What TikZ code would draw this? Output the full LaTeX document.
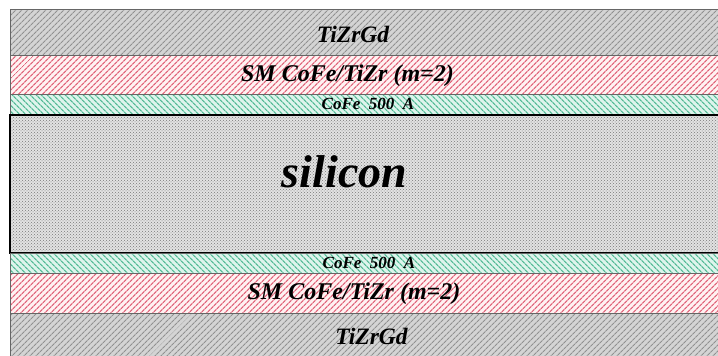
\documentclass[tikz,border=0pt]{standalone}
\usepackage{fontspec}
\setmainfont{Liberation Serif}
\usetikzlibrary{patterns,patterns.meta}
\definecolor{gdback}{RGB}{212,212,212}
\definecolor{gdline}{RGB}{145,145,145}
\definecolor{smback}{RGB}{255,242,242}
\definecolor{smline}{RGB}{224,100,122}
\definecolor{cofeback}{RGB}{222,244,236}
\definecolor{cofeline}{RGB}{84,186,150}
\definecolor{siback}{RGB}{226,226,226}
\definecolor{siline}{RGB}{120,120,120}
\begin{document}
\begin{tikzpicture}[x=1pt,y=-1pt,
	gdlayer/.style={draw=black!60, line width=0.8pt, preaction={fill=gdback},
		pattern={Lines[angle=45,distance=4pt,line width=1.2pt]}, pattern color=gdline},
	smlayer/.style={draw=black!60, line width=0.8pt, preaction={fill=smback},
		pattern={Lines[angle=45,distance=4pt,line width=1.3pt]}, pattern color=smline},
	cofelayer/.style={draw=black!60, line width=0.8pt, preaction={fill=cofeback},
		pattern={Lines[angle=-45,distance=4pt,line width=1.3pt]}, pattern color=cofeline},
	silayer/.style={draw=black, line width=1.8pt, preaction={fill=siback},
		pattern=crosshatch dots, pattern color=siline},
	lbl/.style={anchor=base, inner sep=0pt}]
	\useasboundingbox (0,0) rectangle (718,356);
	\clip (0,0) rectangle (718,356);
	% layers, top to bottom
	\draw[gdlayer] (10,9) rectangle (730,55);
	\draw[smlayer] (10,55) rectangle (730,94);
	\draw[cofelayer] (10,94) rectangle (730,115);
	\draw[silayer] (10,115) rectangle (730,253);
	\draw[cofelayer] (10,253) rectangle (730,273);
	\draw[smlayer] (10,273) rectangle (730,313);
	\draw[gdlayer] (10,313) rectangle (730,370);
	% labels
	\node[lbl, font=\fontsize{23.5}{23.5}\selectfont\bfseries\itshape] (gdtop) at (353,42) {TiZrGd};
	\node[lbl, font=\fontsize{24}{24}\selectfont\bfseries\itshape] (smtop) at (347.5,81) {SM CoFe/TiZr (m=2)};
	\node[lbl, font=\fontsize{17}{17}\selectfont\bfseries\itshape] (cofetop) at (368,109) {CoFe\ \ 500\ \ A};
	\node[lbl, font=\fontsize{46}{46}\selectfont\bfseries\itshape] (si) at (344.5,187) {silicon};
	\node[lbl, font=\fontsize{17}{17}\selectfont\bfseries\itshape] (cofebot) at (369,268) {CoFe\ \ 500\ \ A};
	\node[lbl, font=\fontsize{24}{24}\selectfont\bfseries\itshape] (smbot) at (354,299) {SM CoFe/TiZr (m=2)};
	\node[lbl, font=\fontsize{23.5}{23.5}\selectfont\bfseries\itshape] (gdbot) at (371.5,344) {TiZrGd};
\end{tikzpicture}
\end{document}
